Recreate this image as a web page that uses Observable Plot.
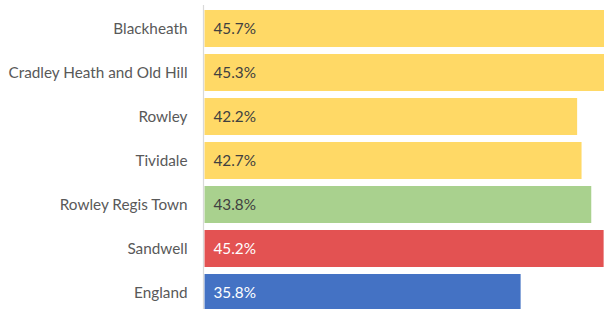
<!DOCTYPE html>
<html>
<head>
<meta charset="utf-8">
<script src="https://cdn.jsdelivr.net/npm/d3@7"></script>
<script src="https://cdn.jsdelivr.net/npm/@observablehq/plot@0.6"></script>
<style>
  html, body { margin: 0; padding: 0; background: #fff; overflow: hidden; }
  #chart { width: 604px; height: 309px; overflow: hidden; }
</style>
</head>
<body>
<div id="chart"></div>
<script>
const areas = ["Blackheath", "Cradley Heath and Old Hill", "Rowley", "Tividale", "Rowley Regis Town", "Sandwell", "England"];
const values = [45.7, 45.3, 42.2, 42.7, 43.8, 45.2, 35.8];
const levels = ["ward", "ward", "ward", "ward", "town", "borough", "national"];
const levelNames = ["ward", "town", "borough", "national"];
const levelColors = ["#FFD966", "#A9D18E", "#E35252", "#4472C4"];
const labelColors = ["#404040", "#404040", "#ffffff", "#ffffff"];

const data = areas.map((a, i) => ({area: a, value: values[i], level: levels[i]}));
const labelColor = d => labelColors[levelNames.indexOf(d.level)];

const chart = Plot.plot({
  width: 604,
  height: 309,
  marginLeft: 203,
  marginRight: 0,
  marginTop: 5,
  marginBottom: 0,
  style: {fontFamily: "Lato, sans-serif", background: "#fff"},
  x: {domain: [0, 50], range: [204.5, 204.5 + 8.83 * 50], axis: null},
  y: {domain: areas, range: [4.7, 316.8], paddingInner: 0.17, paddingOuter: 0.085, axis: null},
  color: {domain: levelNames, range: levelColors},
  marks: [
    Plot.barX(data, {y: "area", x: "value", fill: "level"}),
    Plot.ruleX([0], {x: () => 0, dx: -1.5, stroke: "#d9d9d9", strokeWidth: 1.2}),
    Plot.axisY({tickSize: 0, tickPadding: 16, fontSize: 15.3, color: "#595959", label: null}),
    Plot.text(data, {y: "area", x: 0, dx: 8.5, text: d => d.value.toFixed(1) + "%", textAnchor: "start", fontSize: 15.3, fill: labelColor})
  ]
});
document.getElementById("chart").appendChild(chart);
</script>
</body>
</html>
